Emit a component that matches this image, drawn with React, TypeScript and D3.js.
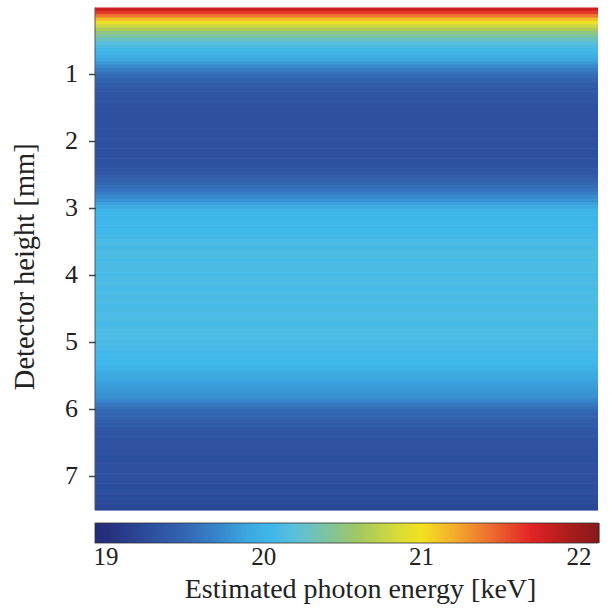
import React from 'react';
import * as d3 from 'd3';

// estimated photon energy per detector row (keV), 0.05 mm per row, top to bottom
const rowStep = 0.05;
const energies = [
  21.8, 21.62, 21.4, 21.15, 20.95, 20.8, 20.65, 20.5, 20.4, 20.3,
  20.2, 20.12, 20.06, 20.02, 19.97, 19.9, 19.82, 19.74, 19.66, 19.58,
  19.52, 19.47, 19.43, 19.4, 19.38, 19.36, 19.35, 19.34, 19.33, 19.32,
  19.31, 19.3, 19.3, 19.29, 19.3, 19.3, 19.31, 19.3, 19.29, 19.3,
  19.3, 19.31, 19.3, 19.3, 19.31, 19.32, 19.32, 19.33, 19.35, 19.37,
  19.42, 19.46, 19.5, 19.55, 19.6, 19.66, 19.72, 19.78, 19.85, 19.92,
  20.0, 20.03, 20.02, 20.03, 20.04, 20.03, 20.05, 20.06, 20.07, 20.09,
  20.1, 20.08, 20.11, 20.1, 20.12, 20.09, 20.1, 20.12, 20.1, 20.08,
  20.11, 20.1, 20.12, 20.1, 20.09, 20.11, 20.1, 20.12, 20.1, 20.09,
  20.11, 20.1, 20.12, 20.1, 20.09, 20.11, 20.1, 20.12, 20.1, 20.09,
  20.1, 20.08, 20.07, 20.06, 20.05, 20.05, 20.04, 20.0, 19.97, 19.93,
  19.9, 19.87, 19.85, 19.83, 19.8, 19.78, 19.75, 19.7, 19.62, 19.55,
  19.5, 19.47, 19.45, 19.43, 19.4, 19.38, 19.36, 19.35, 19.34, 19.33,
  19.33, 19.32, 19.32, 19.31, 19.31, 19.3, 19.3, 19.3, 19.29, 19.3,
  19.29, 19.29, 19.28, 19.28, 19.28, 19.27, 19.27, 19.26, 19.24, 19.22
];

const heightTicks = [1, 2, 3, 4, 5, 6, 7];
const energyTicks = [19, 20, 21, 22];

// colormap (value -> colour)
const cmapValues = [18.93, 19.0, 19.3, 19.5, 19.7, 19.9, 20.05, 20.2, 20.4, 20.6, 20.85, 21.0, 21.2, 21.45, 21.7, 21.95, 22.12];
const cmapColors = ['#232c74', '#252f7c', '#2d50a0', '#3366b3', '#3684ca', '#3ca8e0', '#40b8ea', '#5cc0dc', '#7cc4a0', '#a2c860', '#d8dc38', '#f2e21e', '#f4b02c', '#ec6a2e', '#e22224', '#a81c1c', '#8a1a1a'];

export default function App() {
  const width = 612;
  const height = 614;
  const left = 95, right = 598, top = 7.5, bottom = 510;
  const cbTop = 523, cbBottom = 543;

  const yScale = d3.scaleLinear().domain([0, energies.length * rowStep]).range([top, bottom]);
  const color = d3.scaleLinear<string>().domain(cmapValues).range(cmapColors).clamp(true);
  const cbScale = d3.scaleLinear().domain([18.93, 22.12]).range([left, right]);

  const cbSteps = d3.range(0, 504).map(i => cbScale.invert(left + i + 0.5));
  const font = '"Liberation Serif", "Times New Roman", serif';

  return (
    <svg width={width} height={height} style={{ position: 'absolute', left: 0, top: 0 }} fontFamily={font}>
      <rect width={width} height={height} fill="#fff" />

      {/* heat map rows */}
      {energies.map((e, i) => (
        <rect key={i} x={left} width={right - left}
          y={yScale(i * rowStep)}
          height={yScale((i + 1) * rowStep) - yScale(i * rowStep) + 0.6}
          fill={color(e)} />
      ))}
      <line x1={left} x2={left} y1={top} y2={bottom} stroke="#555" strokeWidth={1} />

      {/* y ticks */}
      {heightTicks.map(t => (
        <g key={t} transform={`translate(0,${yScale(t)})`}>
          <line x1={left - 6} x2={left + 1} stroke="#444" strokeWidth={1.5} />
          <text x={78} dy="0.3em" textAnchor="end" fontSize={26} fill="#222">{t}</text>
        </g>
      ))}
      <text transform={`translate(34,${(top + bottom) / 2 + 8}) rotate(-90)`} textAnchor="middle"
        fontSize={28.5} fill="#222">Detector height [mm]</text>

      {/* colour bar */}
      {cbSteps.map((v, i) => (
        <rect key={i} x={left + i} y={cbTop} width={1.6} height={cbBottom - cbTop} fill={color(v)} />
      ))}
      <rect x={left} y={cbTop} width={right - left} height={cbBottom - cbTop} fill="none" stroke="#333" strokeWidth={0.8} />
      {energyTicks.map(t => (
        <text key={t} x={cbScale(t)} y={565} textAnchor="middle" fontSize={25} fill="#222">{t}</text>
      ))}
      <text x={(left + right) / 2 + 14} y={598} textAnchor="middle" fontSize={28} fill="#222">Estimated photon energy [keV]</text>
    </svg>
  );
}
